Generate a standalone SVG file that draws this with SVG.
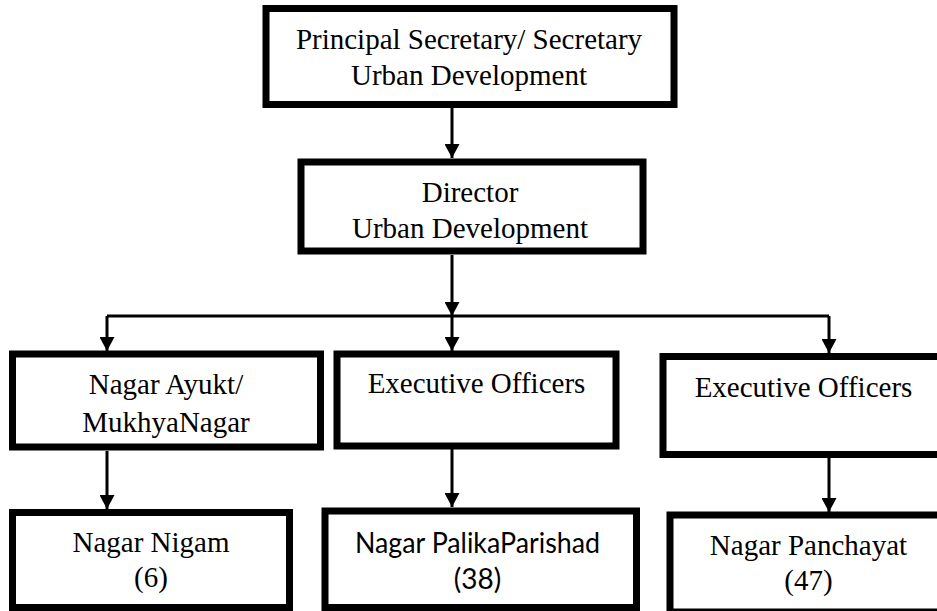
<svg xmlns="http://www.w3.org/2000/svg" width="937" height="611" viewBox="0 0 937 611">
<style>
.box{fill:#fff;stroke:#000;stroke-width:7}
.t{font-family:"Liberation Serif","Times New Roman",serif;font-size:29px;fill:#000;text-anchor:middle}
.s{font-family:Lato,"Open Sans","Liberation Sans",sans-serif;font-size:28px;fill:#000;text-anchor:middle}
.c{fill:none;stroke:#000;stroke-width:3}
</style>
<defs>
<marker id="ah" markerUnits="userSpaceOnUse" markerWidth="16" markerHeight="15" refX="14" refY="7.5" orient="auto">
<path d="M0,0 L14,7.5 L0,15 Z" fill="#000"/>
</marker>
</defs>
<rect width="937" height="611" fill="#fff"/>
<g id="connectors">
<line class="c" x1="452" y1="108" x2="452" y2="158" marker-end="url(#ah)"/>
<line class="c" x1="452" y1="255" x2="452" y2="316" marker-end="url(#ah)"/>
<line class="c" x1="107" y1="316" x2="829" y2="316"/>
<line class="c" x1="107" y1="316" x2="107" y2="351" marker-end="url(#ah)"/>
<line class="c" x1="452" y1="316" x2="452" y2="351" marker-end="url(#ah)"/>
<line class="c" x1="829" y1="316" x2="829" y2="353" marker-end="url(#ah)"/>
<line class="c" x1="107" y1="451" x2="107" y2="509" marker-end="url(#ah)"/>
<line class="c" x1="452" y1="449" x2="452" y2="507" marker-end="url(#ah)"/>
<line class="c" x1="829" y1="458" x2="829" y2="512" marker-end="url(#ah)"/>
</g>
<g id="n-secretary">
<rect class="box" x="266" y="8.5" width="408" height="96"/>
<text class="t" x="469" y="49">Principal Secretary/ Secretary</text>
<text class="t" x="469" y="85">Urban Development</text>
</g>
<g id="n-director">
<rect class="box" x="301" y="162" width="342" height="89"/>
<text class="t" x="470" y="202">Director</text>
<text class="t" x="470" y="238">Urban Development</text>
</g>
<g id="n-ayukt">
<rect class="box" x="12.5" y="354" width="308" height="93"/>
<text class="t" x="166" y="394">Nagar Ayukt/</text>
<text class="t" x="166" y="432">MukhyaNagar</text>
</g>
<g id="n-exec1">
<rect class="box" x="337" y="354" width="279" height="92"/>
<text class="t" x="476.5" y="393">Executive Officers</text>
</g>
<g id="n-exec2">
<rect class="box" x="663" y="356.5" width="282" height="98"/>
<text class="t" x="803.5" y="397">Executive Officers</text>
</g>
<g id="n-nigam">
<rect class="box" x="12.5" y="512.5" width="277" height="95"/>
<text class="t" x="151" y="552">Nagar Nigam</text>
<text class="t" x="151" y="587">(6)</text>
</g>
<g id="n-palika">
<rect class="box" x="325" y="511" width="311.5" height="96.5"/>
<text class="s" x="477.5" y="553" textLength="245" lengthAdjust="spacingAndGlyphs">Nagar PalikaParishad</text>
<text class="s" x="477.5" y="589">(38)</text>
</g>
<g id="n-panchayat">
<rect class="box" x="670" y="515" width="275" height="97"/>
<text class="t" x="808.5" y="555">Nagar Panchayat</text>
<text class="t" x="808.5" y="590">(47)</text>
</g>
</svg>
